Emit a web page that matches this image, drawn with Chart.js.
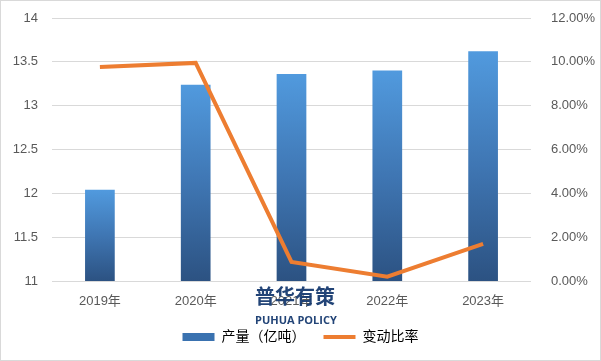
<!DOCTYPE html>
<html><head><meta charset="utf-8">
<script src="https://cdn.jsdelivr.net/npm/chart.js@4"></script>
<style>
html,body{margin:0;padding:0;background:#fff;}
#wrap{position:relative;width:601px;height:361px;box-sizing:border-box;border:1px solid #d9d9d9;background:#fff;}
#wm{position:absolute;left:254px;top:284px;width:80px;text-align:center;color:rgba(22,58,112,0.95);pointer-events:none;}
#wm .cn{font:bold 20px "Noto Sans CJK SC";line-height:22px;}
#wm .en{font:bold 11px "Open Sans";line-height:14px;margin-top:6px;white-space:nowrap;}
</style></head>
<body>
<div id="wrap"><canvas id="c" width="599" height="359"></canvas>
<div id="wm"><div class="cn">普华有策</div><div class="en">PUHUA POLICY</div></div>
</div>
<script>
const categories = ['2019年','2020年','2021年','2022年','2023年'];
const output = [12.04, 13.24, 13.36, 13.40, 13.62];
const changeRate = [9.76, 9.95, 0.87, 0.20, 1.69];
const outputLabel = '产量（亿吨）';
const rateLabel = '变动比率';

const FONT = '"Liberation Sans","Noto Sans CJK SC",sans-serif';
function barGrad(ctx){
  const chart = ctx.chart;
  const ca = chart.chartArea;
  if(!ca || ctx.parsed === undefined) return '#4a8bd0';
  const y = chart.scales.y.getPixelForValue(ctx.parsed.y);
  const g = chart.ctx.createLinearGradient(0, y, 0, ca.bottom);
  g.addColorStop(0, '#519ade');
  g.addColorStop(0.5, '#3f76b3');
  g.addColorStop(1, '#2c5282');
  return g;
}
new Chart(document.getElementById('c'), {
  data: {
    labels: categories,
    datasets: [
      {type:'line', label: rateLabel, data: changeRate, yAxisID:'y1', borderColor:'#ed7d31', backgroundColor:'#ed7d31', borderWidth:4, pointRadius:0, tension:0, order:0},
      {type:'bar', label: outputLabel, data: output, yAxisID:'y', backgroundColor: barGrad, barPercentage:0.31, categoryPercentage:1, order:1}
    ]
  },
  options: {
    responsive:false, animation:false,
    layout:{padding:{top:17,bottom:6,left:0,right:0}},
    plugins:{
      tooltip:{enabled:false},
      legend:{position:'bottom',
        labels:{usePointStyle:true, pointStyleWidth:32, boxHeight:8, padding:18, color:'#595959', font:{size:14, family:FONT},
          generateLabels(chart){
            return [
              {text: outputLabel, pointStyle:'rect', fillStyle:'#3a72b0', strokeStyle:'rgba(0,0,0,0)', lineWidth:0, datasetIndex:1},
              {text: rateLabel, pointStyle:'line', fillStyle:'#ed7d31', strokeStyle:'#ed7d31', lineWidth:4, datasetIndex:0}
            ];
          }
        }
      }
    },
    scales:{
      x:{grid:{display:false}, border:{display:false},
        ticks:{color:'#595959', font:{size:13, family:FONT}, padding:5},
        afterFit(s){ s.height = 31; }},
      y:{position:'left', min:11, max:14,
        ticks:{stepSize:0.5, color:'#595959', font:{size:13, family:FONT}, padding:14, callback:v=>String(v)},
        grid:{color:'#d9d9d9', drawTicks:false}, border:{display:false},
        afterFit(s){ s.width = 51; s.paddingTop = 0; s.paddingBottom = 0; }},
      y1:{position:'right', min:0, max:12,
        ticks:{stepSize:2, color:'#595959', font:{size:13, family:FONT}, padding:12, callback:v=>v.toFixed(2)+'%'},
        grid:{display:false}, border:{display:false},
        afterFit(s){ s.width = 69; s.paddingTop = 0; s.paddingBottom = 0; }}
    }
  }
});
</script>
</body></html>
